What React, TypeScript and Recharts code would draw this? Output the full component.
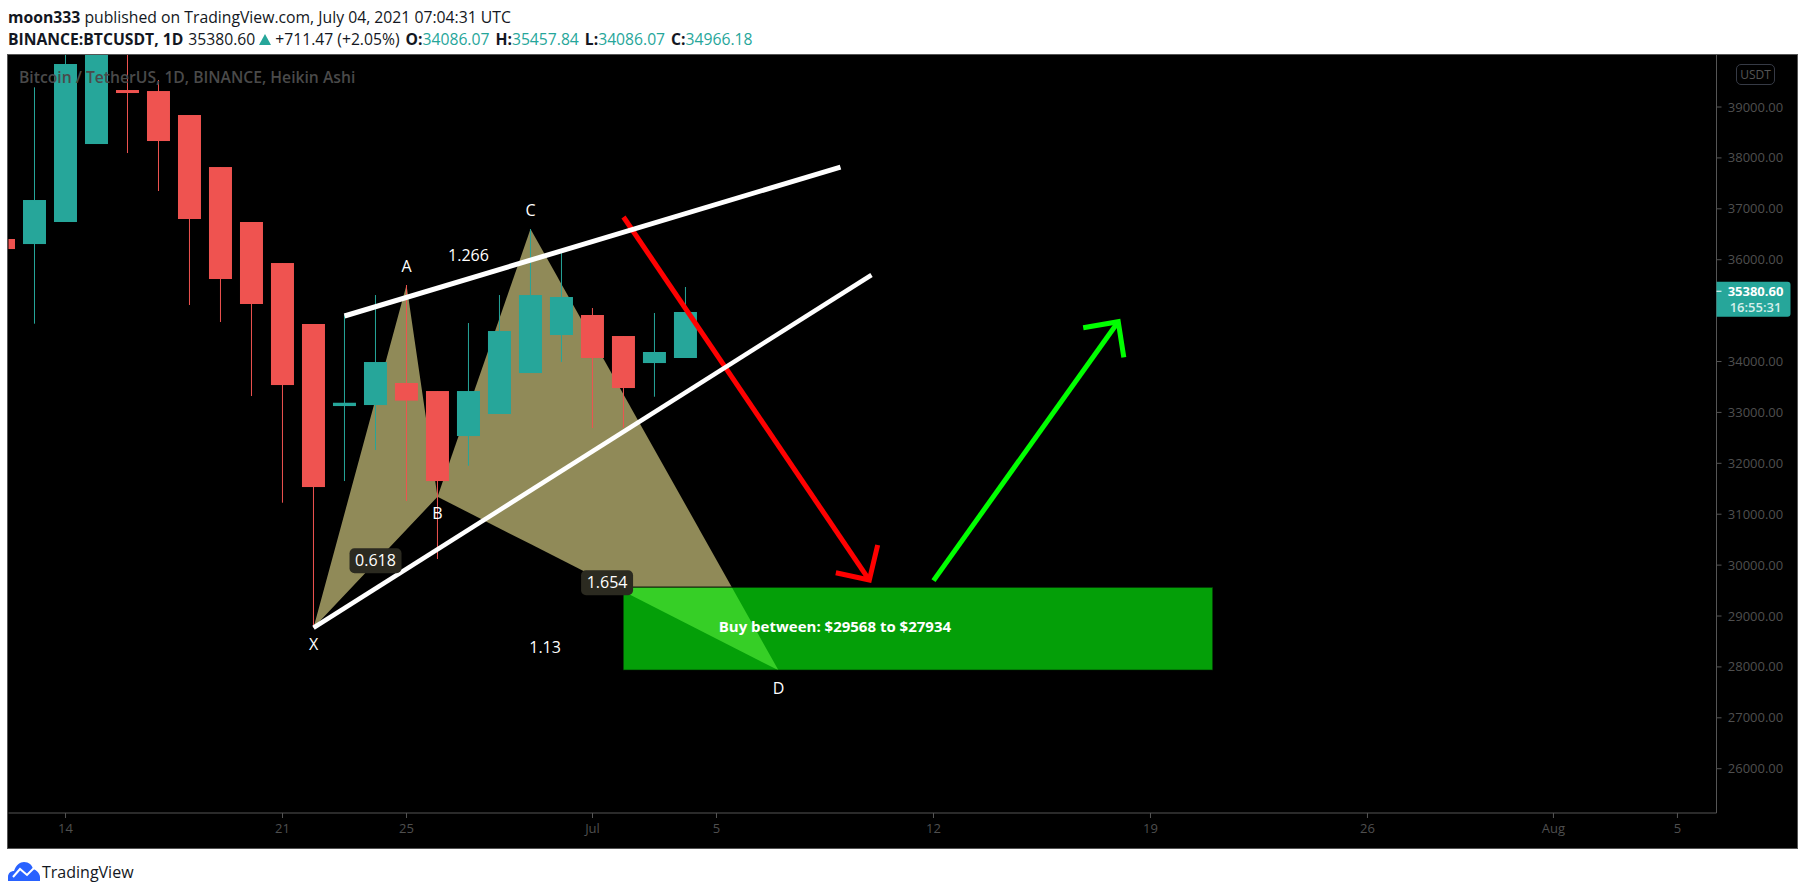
import {
  Area,
  Bar,
  ComposedChart,
  Line,
  Scatter,
  XAxis,
  YAxis,
} from "recharts";

const days = [-2, -1, 0, 1, 2, 3, 4, 5, 6, 7, 8, 9, 10, 11, 12, 13, 14, 15, 16, 17, 18, 19, 20];
const opens = [36407, 36308, 36741, 38273, 39334, 39314, 38843, 37821, 36741, 35935, 34737, 33125, 33145, 33578, 33420, 32536, 32969, 33774, 34521, 34914, 34501, 33970, 34069];
const closes = [36210, 37173, 39845, 41000, 39275, 38332, 36800, 35621, 35130, 33538, 31534, 33190, 33990, 33232, 31652, 33420, 34599, 35306, 35267, 34069, 33479, 34187, 34973];
const highs = [36407, 39387, 40400, 41500, 40400, 39530, 38843, 37821, 36741, 35935, 34737, 34914, 35306, 35503, 33420, 34756, 35306, 36603, 36130, 35051, 34501, 34953, 35464];
const lows = [36210, 34743, 36741, 38273, 38096, 37350, 35110, 34776, 33322, 31226, 28770, 31652, 32261, 31260, 30120, 31953, 32969, 33774, 33990, 32693, 32700, 33308, 34069];

const xTicks = [0, 7, 11, 17, 21, 28, 35, 42, 48, 52];
const xTickLabels = ["14", "21", "25", "Jul", "5", "12", "19", "26", "Aug", "5"];
const priceTicks = [26000, 27000, 28000, 29000, 30000, 31000, 32000, 33000, 34000, 36000, 37000, 38000, 39000, 35380.6];

// Harmonic pattern drawn as two range areas
const patternLeft = [
  { x: 8, range: [28770, 28770] },
  { x: 11, range: [30700, 35503] },
  { x: 12, range: [31343, 31343] },
];
const patternRight = [
  { x: 12, range: [31343, 31343] },
  { x: 15, range: [30413, 36603] },
  { x: 23, range: [27934, 27934] },
];
const buyZone = [
  { x: 18, range: [27934, 29568] },
  { x: 37, range: [27934, 29568] },
];

// Trend lines and arrows
const upperTrend = [{ x: 9, v: 34894 }, { x: 25, v: 37821 }];
const lowerTrend = [{ x: 8, v: 28770 }, { x: 26, v: 35700 }];
const redShaft = [{ x: 18, v: 36839 }, { x: 25.93, v: 29707 }];
const redHead = [{ x: 24.85, v: 29851 }, { x: 25.93, v: 29707 }, { x: 26.2, v: 30395 }];
const greenShaft = [{ x: 28, v: 29696 }, { x: 33.96, v: 34782 }];
const greenHead = [{ x: 32.83, v: 34664 }, { x: 33.96, v: 34782 }, { x: 34.14, v: 34082 }];

const badges = [
  { x: 10, v: 30086 },
  { x: 17.47, v: 29654 },
];
const labels = [
  { x: 8, v: 28450, text: "X" },
  { x: 11, v: 35876, text: "A" },
  { x: 12, v: 31010, text: "B" },
  { x: 15, v: 36976, text: "C" },
  { x: 23, v: 27572, text: "D" },
  { x: 13, v: 36092, text: "1.266" },
  { x: 15.47, v: 28377, text: "1.13" },
  { x: 10, v: 30086, text: "0.618" },
  { x: 17.47, v: 29654, text: "1.654" },
  { x: 24.82, v: 28790, text: "Buy between: $29568 to $27934", bold: true },
];

const candles = days.map((d, i) => ({
  x: d,
  range: [lows[i], highs[i]],
  open: opens[i],
  close: closes[i],
  high: highs[i],
  low: lows[i],
}));

const FONT = "'Open Sans', 'Noto Sans', sans-serif";
const TEAL = "#26a69a";
const RED = "#ef5350";
const AXIS = "#555555";
const AXIS_TEXT = "#4f4f4f";
const CANDLE_WIDTH = 23;

function Candle(props: any) {
  const { x, y, width, height, payload } = props;
  const color = payload.close >= payload.open ? TEAL : RED;
  const perPrice = height / (payload.high - payload.low);
  const top = y + (payload.high - Math.max(payload.open, payload.close)) * perPrice;
  const bottom = y + (payload.high - Math.min(payload.open, payload.close)) * perPrice;
  const mid = x + width / 2;
  return (
    <g>
      <line x1={mid} x2={mid} y1={y} y2={y + height} stroke={color} strokeWidth={1} />
      <rect x={mid - CANDLE_WIDTH / 2} y={top} width={CANDLE_WIDTH} height={Math.max(bottom - top, 1)} fill={color} />
    </g>
  );
}

function Badge(props: any) {
  const { cx, cy } = props;
  return <rect x={cx - 26} y={cy - 12.5} width={52} height={25} rx={5} fill="#2b2a20" />;
}

function Annotation(props: any) {
  const { cx, cy, payload } = props;
  const bold = payload.bold;
  return (
    <text
      x={cx}
      y={cy}
      dy="0.35em"
      textAnchor="middle"
      fill="#fff"
      fontFamily={FONT}
      fontSize={bold ? 15 : 16}
      fontWeight={bold ? 700 : 400}
    >
      {payload.text}
    </text>
  );
}

function PriceTick(props: any) {
  const { x, y, payload } = props;
  if (payload.value === 35380.6) {
    return (
      <g>
        <path d={`M${x} ${y - 9.5}H${x + 71}a3 3 0 0 1 3 3V${y + 22.5}a3 3 0 0 1 -3 3H${x}Z`} fill={TEAL} />
        <line x1={x} x2={x + 5} y1={y} y2={y} stroke="#fff" />
        <text x={x + 39} y={y} dy="0.35em" textAnchor="middle" fill="#fff" fontFamily={FONT} fontSize={13} fontWeight={700}>
          35380.60
        </text>
        <text x={x + 39} y={y + 16} dy="0.35em" textAnchor="middle" fill="#d4eeeb" fontFamily={FONT} fontSize={13} fontWeight={600}>
          16:55:31
        </text>
      </g>
    );
  }
  return (
    <g>
      <line x1={x} x2={x + 5} y1={y} y2={y} stroke={AXIS} />
      <text x={x + 39} y={y} dy="0.35em" textAnchor="middle" fill={AXIS_TEXT} fontFamily={FONT} fontSize={13}>
        {payload.value.toFixed(2)}
      </text>
    </g>
  );
}

const abs = (left: number, top: number): React.CSSProperties => ({
  position: "absolute",
  left,
  top,
  whiteSpace: "nowrap",
  fontFamily: FONT,
  lineHeight: "20px",
});

function Value({ label, value }: { label: string; value: string }) {
  return (
    <span style={{ marginLeft: 6 }}>
      <b>{label}</b>
      <span style={{ color: TEAL }}>{value}</span>
    </span>
  );
}

export default function App() {
  return (
    <div style={{ position: "absolute", left: 0, top: 0, width: 1805, height: 895, background: "#fff", overflow: "hidden" }}>
      <div style={{ ...abs(8, 7), fontSize: 15.75, color: "#131722" }}>
        <b>moon333</b> published on TradingView.com, July 04, 2021 07:04:31 UTC
      </div>
      <div style={{ ...abs(8, 29), fontSize: 15.7, color: "#131722" }}>
        <b>BINANCE:BTCUSDT, 1D</b> <span style={{ marginLeft: 1 }}>35380.60</span>
        <svg width={12} height={11} viewBox="0 0 12 11" style={{ margin: "0 4px 0 4px" }}>
          <path d="M6 0 L12 11 H0 Z" fill={TEAL} />
        </svg>
        +711.47 (+2.05%)
        <Value label="O:" value="34086.07" />
        <Value label="H:" value="35457.84" />
        <Value label="L:" value="34086.07" />
        <Value label="C:" value="34966.18" />
      </div>

      <div style={{ position: "absolute", left: 7, top: 54, width: 1791, height: 795, boxSizing: "border-box", background: "#000", border: `1px solid ${AXIS}` }} />

      <div style={{ position: "absolute", left: 0, top: 0 }}>
        <ComposedChart
          width={1805}
          height={895}
          data={candles}
          margin={{ top: 55, right: 8.5, bottom: 47, left: 8.5 }}
        >
          <XAxis
            dataKey="x"
            type="number"
            domain={[-1.84, 53.26]}
            allowDataOverflow
            ticks={xTicks}
            tickFormatter={(v: number) => xTickLabels[xTicks.indexOf(v)]}
            interval={0}
            height={35}
            tickSize={5}
            tickMargin={6}
            stroke={AXIS}
            tick={{ fill: AXIS_TEXT, fontSize: 13, fontFamily: FONT }}
          />
          <YAxis
            orientation="right"
            type="number"
            domain={[25130, 40022]}
            allowDataOverflow
            ticks={priceTicks}
            interval={0}
            width={80}
            tickSize={0}
            tickMargin={0}
            tickLine={false}
            stroke={AXIS}
            tick={<PriceTick />}
          />
          <Area data={patternLeft} dataKey="range" type="linear" fill="#908a58" fillOpacity={1} stroke="none" dot={false} activeDot={false} isAnimationActive={false} />
          <Area data={patternRight} dataKey="range" type="linear" fill="#908a58" fillOpacity={1} stroke="none" dot={false} activeDot={false} isAnimationActive={false} />
          <Scatter data={badges} dataKey="v" shape={<Badge />} isAnimationActive={false} />
          <Area data={buyZone} dataKey="range" type="linear" fill="#06f40c" fillOpacity={0.65} stroke="#000" strokeWidth={1} dot={false} activeDot={false} isAnimationActive={false} />
          <Line data={redShaft} dataKey="v" type="linear" stroke="#ff0000" strokeWidth={5} dot={false} activeDot={false} isAnimationActive={false} />
          <Line data={redHead} dataKey="v" type="linear" stroke="#ff0000" strokeWidth={5} dot={false} activeDot={false} isAnimationActive={false} />
          <Bar dataKey="range" barSize={23} shape={<Candle />} isAnimationActive={false} />
          <Line data={upperTrend} dataKey="v" type="linear" stroke="#ffffff" strokeWidth={5} dot={false} activeDot={false} isAnimationActive={false} />
          <Line data={lowerTrend} dataKey="v" type="linear" stroke="#ffffff" strokeWidth={4.5} dot={false} activeDot={false} isAnimationActive={false} />
          <Line data={greenShaft} dataKey="v" type="linear" stroke="#00ff00" strokeWidth={5} dot={false} activeDot={false} isAnimationActive={false} />
          <Line data={greenHead} dataKey="v" type="linear" stroke="#00ff00" strokeWidth={5} dot={false} activeDot={false} isAnimationActive={false} />
          <Scatter data={labels} dataKey="v" shape={<Annotation />} isAnimationActive={false} />
        </ComposedChart>
      </div>

      <div style={{ ...abs(19, 67), fontSize: 15.7, fontWeight: 600, color: "#4a4a4a" }}>
        Bitcoin / TetherUS, 1D, BINANCE, Heikin Ashi
      </div>
      <div style={{ position: "absolute", left: 1736, top: 64, width: 39, height: 21, boxSizing: "border-box", border: "1px solid #363a45", borderRadius: 5, textAlign: "center", fontFamily: FONT, fontSize: 12, lineHeight: "19px", color: "#555" }}>
        USDT
      </div>

      <svg style={{ position: "absolute", left: 8, top: 862 }} width={32} height={20} viewBox="0 0 32 20">
        <path d="M0 19 V15 C0 11 3 9 6 9 C8 3 12 0 16 0 C21 0 24 3 25 7 C29 8 32 12 32 15 V19 Z" fill="#2962ff" />
        <path d="M5 15 L12 7 L19 13 L26 6" fill="none" stroke="#fff" strokeWidth={2} />
      </svg>
      <div style={{ ...abs(42, 862), fontSize: 16, color: "#131722" }}>TradingView</div>
    </div>
  );
}
